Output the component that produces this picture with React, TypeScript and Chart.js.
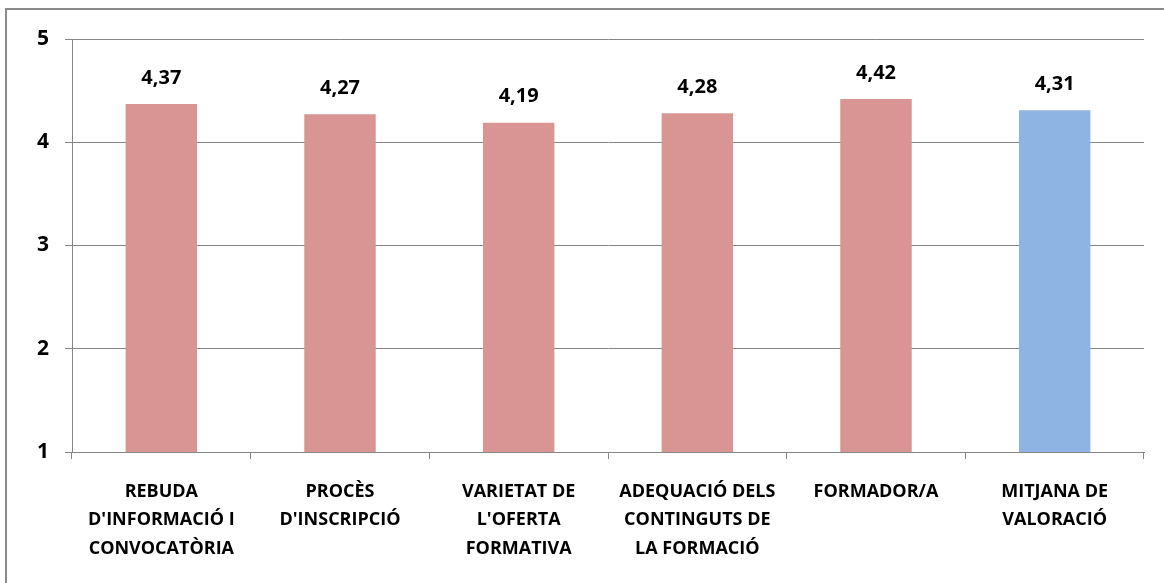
import React, { useEffect, useRef } from "react";
import { Chart, registerables } from "chart.js";

Chart.register(...registerables);

const categories: string[][] = [
  ["REBUDA", "D'INFORMACIÓ I", "CONVOCATÒRIA"],
  ["PROCÈS", "D'INSCRIPCIÓ"],
  ["VARIETAT DE", "L'OFERTA", "FORMATIVA"],
  ["ADEQUACIÓ DELS", "CONTINGUTS DE", "LA FORMACIÓ"],
  ["FORMADOR/A"],
  ["MITJANA DE", "VALORACIÓ"],
];
const values: number[] = [4.37, 4.27, 4.19, 4.28, 4.42, 4.31];
const barColors: string[] = ["#D99594", "#D99594", "#D99594", "#D99594", "#D99594", "#8EB4E3"];
const yTicks: number[] = [1, 2, 3, 4, 5];

const FONT = "'Open Sans', 'Liberation Sans', sans-serif";

const valueLabels = {
  id: "valueLabels",
  afterDatasetsDraw(chart: any) {
    const ctx = chart.ctx;
    const meta = chart.getDatasetMeta(0);
    ctx.save();
    ctx.font = `bold 20px ${FONT}`;
    ctx.fillStyle = "#000";
    ctx.textAlign = "center";
    ctx.textBaseline = "middle";
    meta.data.forEach((bar: any, i: number) => {
      const txt = values[i].toFixed(2).replace(".", ",");
      ctx.fillText(txt, bar.x, bar.y - 26);
    });
    ctx.restore();
  },
};

export default function App() {
  const ref = useRef<HTMLCanvasElement>(null);
  useEffect(() => {
    if (!ref.current) return;
    const chart = new Chart(ref.current, {
      type: "bar",
      data: {
        labels: categories,
        datasets: [
          {
            data: values,
            backgroundColor: barColors,
            borderWidth: 0,
            barPercentage: 0.4,
            categoryPercentage: 1,
          },
        ],
      },
      options: {
        animation: false,
        responsive: false,
        maintainAspectRatio: false,
        layout: { padding: { top: 39, right: 20, left: 0, bottom: 0 } },
        plugins: { legend: { display: false }, tooltip: { enabled: false } },
        scales: {
          x: {
            afterFit: (s: any) => {
              s.height = 131;
            },
            grid: {
              offset: true,
              drawOnChartArea: false,
              drawTicks: true,
              tickLength: 7,
              color: "#868686",
            },
            border: { color: "#868686" },
            ticks: {
              color: "#000",
              padding: 18,
              maxRotation: 0,
              autoSkip: false,
              font: { family: FONT, size: 18, weight: "bold", lineHeight: 1.6 },
            },
          },
          y: {
            min: 1,
            max: 5,
            afterFit: (s: any) => {
              s.width = 72;
            },
            afterBuildTicks: (s: any) => {
              s.ticks = yTicks.map((v) => ({ value: v }));
            },
            grid: {
              color: "#868686",
              tickLength: 7,
            },
            border: { color: "#868686" },
            ticks: {
              color: "#000",
              padding: 16,
              font: { family: FONT, size: 21, weight: "bold" },
            },
          },
        },
      },
      plugins: [valueLabels],
    });
    return () => chart.destroy();
  }, []);
  return (
    <div style={{ position: "fixed", left: 0, top: 0, width: 1164, height: 583, background: "#fff" }}>
      <div
        style={{
          position: "absolute",
          left: 5,
          top: 8,
          width: 1164,
          height: 600,
          border: "2px solid #8a8a8a",
          boxSizing: "border-box",
        }}
      />
      <canvas ref={ref} width={1164} height={583} style={{ position: "absolute", left: 0, top: 0 }} />
    </div>
  );
}
